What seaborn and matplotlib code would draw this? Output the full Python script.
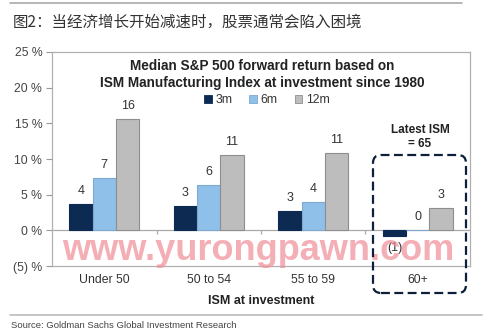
import matplotlib
matplotlib.use("Agg")
import matplotlib.pyplot as plt
import matplotlib.transforms as mtransforms
from matplotlib.patches import FancyBboxPatch, Rectangle
from matplotlib.lines import Line2D
import seaborn as sns
import pandas as pd

# ---- data ----
categories = ["Under 50", "50 to 54", "55 to 59", "60+"]
horizons = ["3m", "6m", "12m"]
ret_3m = [3.7, 3.4, 2.7, -0.8]
ret_6m = [7.4, 6.4, 4.0, 0.0]
ret_12m = [15.6, 10.6, 10.9, 3.1]
y_ticks = [-5, 0, 5, 10, 15, 20, 25]
y_tick_labels = ["(5) %", "0 %", "5 %", "10 %", "15 %", "20 %", "25 %"]

colors = {"3m": "#0c2a52", "6m": "#8ec0ea", "12m": "#bdbdbd"}
edges = {"3m": "#0c2a52", "6m": "#7fa9cf", "12m": "#8e8e8e"}

df = pd.DataFrame({
    "ISM": categories * 3,
    "horizon": [h for h in horizons for _ in categories],
    "ret": ret_3m + ret_6m + ret_12m,
})

sns.set_theme(style="white")
plt.rcParams["font.family"] = ["Liberation Sans", "DejaVu Sans"]

W, H = 499, 336
px = mtransforms.IdentityTransform()  # display pixels, origin bottom-left

fig = plt.figure(figsize=(W / 100, H / 100), dpi=100)
ax = fig.add_axes([52 / W, 1 - 266 / H, (470 - 52) / W, (266 - 52) / H])

sns.barplot(data=df, x="ISM", y="ret", hue="horizon", order=categories,
            hue_order=horizons, palette=colors, width=0.67, gap=0,
            ax=ax, legend=False, saturation=1, linewidth=0.8)

for cont, h in zip(ax.containers, horizons):
    for bar in cont:
        bar.set_edgecolor(edges[h])

# value labels, negatives in accounting style
for cont in ax.containers:
    for bar in cont:
        v = bar.get_height()
        xc = bar.get_x() + bar.get_width() / 2
        neg = round(v) < 0
        txt = f"({abs(v):.0f})" if neg else f"{v:.0f}"
        if neg:
            ax.annotate(txt, (xc, v), xytext=(0, -4), textcoords="offset points",
                        ha="center", va="top", fontsize=9, color="#333333", zorder=1)
        else:
            ax.annotate(txt, (xc, max(v, 0)), xytext=(0, 5), textcoords="offset points",
                        ha="center", va="bottom", fontsize=9, color="#333333")

ax.set_ylim(-5, 25)
ax.set_xlim(-0.5, 3.5)
ax.set_yticks(y_ticks)
ax.set_yticklabels(y_tick_labels)
ax.tick_params(axis="y", which="major", direction="out", length=4, width=0.8,
               color="#999999", labelsize=8.8, labelcolor="#444444", pad=3, left=True)
ax.tick_params(axis="x", length=0, labelsize=8.8, labelcolor="#333333", pad=6)
ax.set_ylabel("")
ax.set_xlabel("ISM at investment", fontsize=9, fontweight="bold", color="#222222", labelpad=6)

for s in ax.spines.values():
    s.set_color("#b0b0b0")
    s.set_linewidth(0.9)

ax.axhline(0, color="#aaaaaa", lw=0.9, zorder=0.5)
ax.vlines([0.5, 1.5, 2.5], -0.45, 0, color="#aaaaaa", lw=0.9)

# in-chart title and legend
ax.text(0.502, 0.895, "Median S&P 500 forward return based on\nISM Manufacturing Index at investment since 1980",
        transform=ax.transAxes, ha="center", va="center", fontsize=9.8,
        fontweight="bold", color="#222222", linespacing=1.3)

handles = [Rectangle((0, 0), 1, 1, facecolor=colors[h], edgecolor=edges[h], lw=0.6)
           for h in horizons]
ax.legend(handles, horizons, loc="center", bbox_to_anchor=(0.514, 0.776), ncol=3,
          frameon=False, fontsize=8.8, handlelength=0.6, handleheight=0.6,
          handletextpad=0.3, columnspacing=1.4, labelcolor="#333333")

fig.text(420, H - 137, "Latest ISM\n= 65", transform=px, ha="center", va="center",
         fontsize=8.5, fontweight="bold", color="#222222", linespacing=1.15)

# dashed rounded box around the latest bucket
box = FancyBboxPatch((373 + 8, H - 293 + 8), 466 - 373 - 16, 293 - 155 - 16,
                     boxstyle="round,pad=8", transform=px,
                     facecolor="none", edgecolor="#0d1f3a", lw=1.6,
                     linestyle=(0, (4, 2)), clip_on=False)
fig.patches.append(box)

# figure header and source
fig.add_artist(Line2D([10 / W, 462 / W], [1 - 3 / H, 1 - 3 / H], transform=fig.transFigure,
                      color="#aaaaaa", lw=1.2))
fig.text(13 / W, 1 - 22 / H, "图2：当经济增长开始减速时，股票通常会陷入困境",
         fontsize=11.2, family=["Noto Sans CJK SC", "DejaVu Sans"], fontweight="medium",
         color="#333333", ha="left", va="center")
fig.add_artist(Line2D([10 / W, 482 / W], [1 - 315 / H, 1 - 315 / H], transform=fig.transFigure,
                      color="#bbbbbb", lw=1.2))
fig.text(11 / W, 1 - 326 / H, "Source: Goldman Sachs Global Investment Research",
         fontsize=6.8, color="#444444", ha="left", va="center")

# site watermark
fig.text(258 / W, 1 - 250 / H, "www.yurongpawn.com", fontsize=26, color="#f08c96",
         alpha=0.7, ha="center", va="center", fontweight="bold", zorder=0.8)

fig.savefig("out.png", dpi=100)
